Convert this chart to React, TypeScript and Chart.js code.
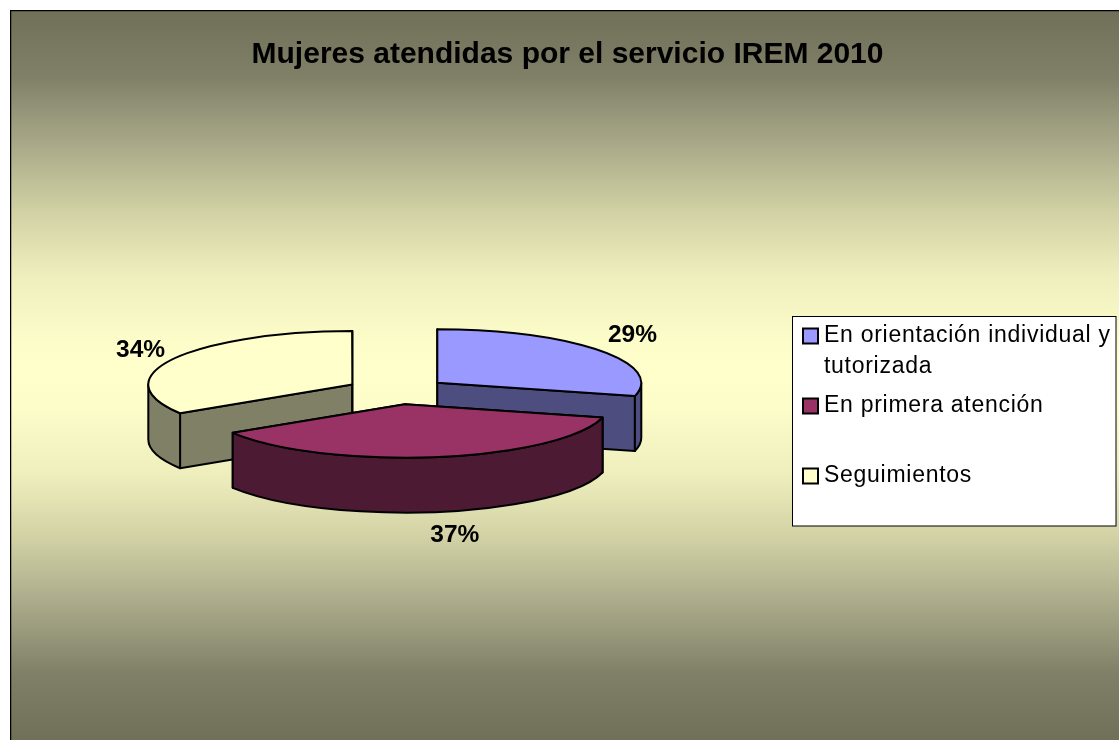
import React, { useEffect, useRef } from "react";
import { Chart, registerables } from "chart.js";

Chart.register(...registerables);

const titleText = "Mujeres atendidas por el servicio IREM 2010";
const categories = ["En orientación individual y tutorizada", "En primera atención", "Seguimientos"];
const percentages = [29, 37, 34];
const faceColors = ["#9999ff", "#993366", "#ffffcc"];
const wallColors = ["#4d4d80", "#4d1a33", "#808066"];
const labelNudges = [[34, -15], [18, 78], [-33, -9]];

const FONT = "'Liberation Sans', Arial, sans-serif";
const SQUASH = 0.262;
const DEPTH = 55;
const LINE = 2;
const TAU = Math.PI * 2;
const RADIUS = 204;
const EXPLODE = 204;

function geom(el: any) {
  const p = el.getProps(["x", "y", "startAngle", "endAngle"], true);
  const off = (el.options.offset || 0) / 4;
  const mid = (p.startAngle + p.endAngle) / 2;
  const ox = p.x + Math.cos(mid) * off;
  const oy = p.y + Math.sin(mid) * off * SQUASH;
  const r = RADIUS;
  const at = (a: number) => [ox + r * Math.cos(a), oy + r * SQUASH * Math.sin(a)];
  return { ...p, mid, ox, oy, r, at };
}

function paintFace(ctx: CanvasRenderingContext2D, pts: number[][], fill: string) {
  ctx.beginPath();
  pts.forEach((q, i) => (i ? ctx.lineTo(q[0], q[1]) : ctx.moveTo(q[0], q[1])));
  ctx.closePath();
  ctx.fillStyle = fill;
  ctx.fill();
  ctx.stroke();
}

const pie3d = {
  id: "pie3d",
  beforeDraw(chart: any) {
    const { ctx, width, height } = chart;
    const g = ctx.createLinearGradient(0, 0, 0, height);
    const stops: [number, string][] = [
      [0, "#707058"],
      [0.092, "#808068"],
      [0.182, "#a8a888"],
      [0.274, "#d0d0a4"],
      [0.366, "#efefbe"],
      [0.456, "#fdfdca"],
      [0.5, "#ffffcc"],
    ];
    stops.forEach(([t, c]) => g.addColorStop(t, c));
    stops.slice(0, -1).reverse().forEach(([t, c]) => g.addColorStop(1 - t, c));
    ctx.save();
    ctx.fillStyle = g;
    ctx.fillRect(0, 0, width, height);
    ctx.strokeStyle = "#000";
    ctx.lineWidth = 2.5;
    ctx.strokeRect(0, 0, width + 4, height + 4);
    ctx.restore();
  },
  afterLayout(chart: any) {
    const a = { cx: 387, cy: 381, half: 240 };
    chart.chartArea = {
      left: a.cx - a.half,
      right: a.cx + a.half,
      top: a.cy - a.half,
      bottom: a.cy + a.half,
      width: a.half * 2,
      height: a.half * 2,
    };
  },
  afterDatasetsUpdate(chart: any) {
    // Chart.js grows an offset arc by an amount that depends on its sweep; even it out.
    chart.getDatasetMeta(0).data.forEach((el: any) => {
      const off = (el.options.offset || 0) / 4;
      const fix = 1 - Math.sin(Math.min(Math.PI, el.circumference || 0));
      el.outerRadius = RADIUS - off * fix;
    });
  },
  beforeDatasetsDraw(chart: any) {
    const { ctx } = chart;
    const arcs = chart.getDatasetMeta(0).data;
    ctx.save();
    ctx.strokeStyle = "#000";
    ctx.lineWidth = LINE;
    ctx.lineJoin = "round";
    [2, 0, 1].forEach((i) => {
      const g = geom(arcs[i]);
      const fill = wallColors[i];
      const apex = [g.ox, g.oy];
      const low = (q: number[]) => [q[0], q[1] + DEPTH];
      const s = g.at(g.startAngle);
      const e = g.at(g.endAngle);
      paintFace(ctx, [apex, s, low(s), low(apex)], fill);
      paintFace(ctx, [apex, e, low(e), low(apex)], fill);
      for (let k = -1; k <= 1; k++) {
        const a0 = Math.max(g.startAngle, k * TAU);
        const a1 = Math.min(g.endAngle, k * TAU + Math.PI);
        if (a1 <= a0) continue;
        ctx.beginPath();
        ctx.ellipse(g.ox, g.oy, g.r, g.r * SQUASH, 0, a0, a1);
        ctx.ellipse(g.ox, g.oy + DEPTH, g.r, g.r * SQUASH, 0, a1, a0, true);
        ctx.closePath();
        ctx.fillStyle = fill;
        ctx.fill();
        ctx.stroke();
      }
    });
    ctx.restore();
    const cy = arcs[0].y;
    ctx.save();
    ctx.translate(0, cy);
    ctx.scale(1, SQUASH);
    ctx.translate(0, -cy);
  },
  afterDatasetsDraw(chart: any) {
    const { ctx } = chart;
    ctx.restore();
    const arcs = chart.getDatasetMeta(0).data;
    ctx.save();
    ctx.strokeStyle = "#000";
    ctx.lineWidth = LINE;
    ctx.lineJoin = "round";
    arcs.forEach((el: any) => {
      const g = geom(el);
      ctx.beginPath();
      ctx.moveTo(g.ox, g.oy);
      ctx.ellipse(g.ox, g.oy, g.r, g.r * SQUASH, 0, g.startAngle, g.endAngle);
      ctx.closePath();
      ctx.stroke();
    });
    // percentage labels
    ctx.fillStyle = "#000";
    ctx.font = `bold 24.5px ${FONT}`;
    ctx.textAlign = "center";
    ctx.textBaseline = "middle";
    const total = percentages.reduce((s, v) => s + v, 0);
    arcs.forEach((el: any, i: number) => {
      const g = geom(el);
      const q = g.at(g.mid);
      const pct = Math.round((percentages[i] / total) * 100);
      ctx.fillText(`${pct}%`, q[0] + labelNudges[i][0], q[1] + labelNudges[i][1]);
    });
    ctx.restore();

    // legend
    const box = { x: 782.5, y: 306.5, w: 323.5, h: 209.5 };
    ctx.save();
    ctx.fillStyle = "#fff";
    ctx.strokeStyle = "#000";
    ctx.lineWidth = 1;
    ctx.fillRect(box.x, box.y, box.w, box.h);
    ctx.strokeRect(box.x, box.y, box.w, box.h);
    ctx.font = `23px ${FONT}`;
    (ctx as any).letterSpacing = "0.72px";
    ctx.textAlign = "left";
    ctx.textBaseline = "alphabetic";
    const rowPitch = 70;
    const linePitch = 30.5;
    chart.data.labels.forEach((label: string, i: number) => {
      const baseline = 332 + i * rowPitch;
      const sw = { x: 793, y: baseline - 13.5, s: 15 };
      ctx.fillStyle = faceColors[i];
      ctx.lineWidth = 2;
      ctx.fillRect(sw.x, sw.y, sw.s, sw.s);
      ctx.strokeRect(sw.x, sw.y, sw.s, sw.s);
      ctx.fillStyle = "#000";
      const lines: string[] = [];
      let cur = "";
      label.split(" ").forEach((word) => {
        const t = cur ? `${cur} ${word}` : word;
        if (ctx.measureText(t).width > 292 && cur) {
          lines.push(cur);
          cur = word;
        } else cur = t;
      });
      lines.push(cur);
      lines.forEach((ln, j) => ctx.fillText(ln, 814, baseline + j * linePitch));
    });
    ctx.restore();
  },
};

export default function App() {
  const ref = useRef<HTMLCanvasElement>(null);
  useEffect(() => {
    const chart = new Chart(ref.current as HTMLCanvasElement, {
      type: "pie",
      data: {
        labels: categories,
        datasets: [
          {
            data: percentages,
            backgroundColor: faceColors,
            borderWidth: 0,
            offset: EXPLODE,
            clip: false,
          } as any,
        ],
      },
      options: {
        responsive: false,
        animation: false,
        radius: RADIUS,
        rotation: 0,
        layout: { padding: 0 },
        plugins: {
          legend: { display: false },
          tooltip: { enabled: false },
          title: {
            display: true,
            text: titleText,
            color: "#000",
            font: { family: FONT, size: 30, weight: "bold" },
            padding: { top: 27, bottom: 10 },
          },
        },
      } as any,
      plugins: [pie3d as any],
    });
    return () => chart.destroy();
  }, []);
  return (
    <div style={{ position: "fixed", left: 0, top: 0, width: 1119, height: 740, overflow: "hidden", background: "#fff" }}>
      <canvas ref={ref} width={1115} height={730} style={{ position: "absolute", left: 10, top: 10, display: "block" }} />
    </div>
  );
}
